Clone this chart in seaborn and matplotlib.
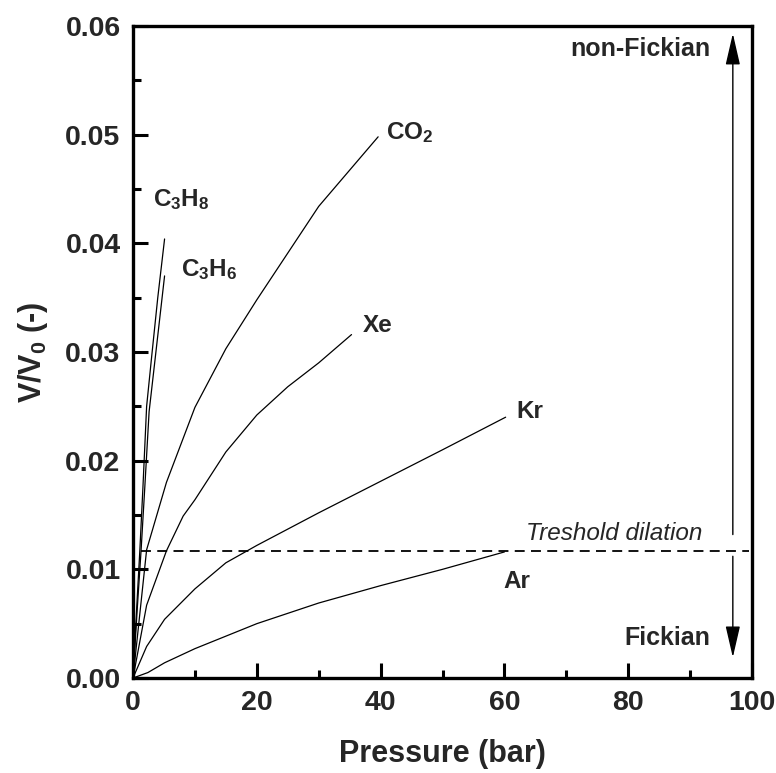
import matplotlib
matplotlib.use("Agg")
import matplotlib.pyplot as plt
import seaborn as sns
import pandas as pd
from matplotlib.ticker import MultipleLocator, FormatStrFormatter

# ---- data ----
p_c3h8 = [0, 0.6, 1.1, 1.6, 2.2, 3.0, 4.0, 5.1]
v_c3h8 = [0, 0.0065, 0.0117, 0.0175, 0.0250, 0.0295, 0.0350, 0.0404]
p_c3h6 = [0, 0.7, 1.3, 1.9, 2.6, 3.5, 4.3, 5.1]
v_c3h6 = [0, 0.0065, 0.0117, 0.0175, 0.0245, 0.0290, 0.0330, 0.0370]
p_co2 = [0, 2.2, 5.4, 10, 15, 20, 30, 39.6]
v_co2 = [0, 0.0118, 0.0180, 0.0249, 0.0303, 0.0348, 0.0434, 0.0498]
p_xe = [0, 2.2, 5.4, 8.1, 10, 15, 20, 25, 30, 35.3]
v_xe = [0, 0.0067, 0.0117, 0.0149, 0.0164, 0.0208, 0.0242, 0.0268, 0.0290, 0.0316]
p_kr = [0, 2.2, 5.1, 10, 15, 20, 30, 40, 50, 60.2]
v_kr = [0, 0.0029, 0.0054, 0.0082, 0.0106, 0.0122, 0.0152, 0.0181, 0.0210, 0.0240]
p_ar = [0, 2.4, 5.1, 10, 20, 30, 40, 50, 60]
v_ar = [0, 0.0005, 0.0014, 0.0027, 0.0050, 0.0069, 0.0085, 0.0100, 0.0116]

threshold = 0.0117
gas_names = ["C3H8", "C3H6", "CO2", "Xe", "Kr", "Ar"]
gas_labels = ["C$_3$H$_8$", "C$_3$H$_6$", "CO$_2$", "Xe", "Kr", "Ar"]
label_pos = [(3.3, 0.0440), (7.8, 0.0376), (40.9, 0.0502), (37.2, 0.0324), (62.0, 0.0245), (59.8, 0.0089)]
x_ticks = [0, 20, 40, 60, 80, 100]
y_ticks = [0.00, 0.01, 0.02, 0.03, 0.04, 0.05, 0.06]

frames = []
for name, p, v in zip(gas_names,
                      [p_c3h8, p_c3h6, p_co2, p_xe, p_kr, p_ar],
                      [v_c3h8, v_c3h6, v_co2, v_xe, v_kr, v_ar]):
    frames.append(pd.DataFrame({"Pressure": p, "V": v, "gas": name}))
df = pd.concat(frames, ignore_index=True)

# ---- style ----
sns.set_theme(style="ticks")
plt.rcParams["font.family"] = ["Liberation Sans", "DejaVu Sans"]
plt.rcParams["font.weight"] = "bold"
plt.rcParams["mathtext.fontset"] = "custom"
plt.rcParams["mathtext.rm"] = "Liberation Sans:bold"
plt.rcParams["mathtext.bf"] = "Liberation Sans:bold"
plt.rcParams["mathtext.it"] = "Liberation Sans:bold:italic"
plt.rcParams["mathtext.default"] = "regular"

fig = plt.figure(figsize=(7.76, 7.73), dpi=100)
ax = fig.add_axes([0.1714, 0.1229, 0.7977, 0.8435])

sns.lineplot(data=df, x="Pressure", y="V", hue="gas", units="gas", estimator=None,
             palette={g: "black" for g in gas_names}, linewidth=0.9,
             legend=False, sort=False, ax=ax)

# threshold dashed line
ax.plot([1.3, 99.5], [threshold, threshold], color="black", lw=1.3,
        linestyle=(0, (5.5, 3.5)))
ax.text(63.5, 0.0133, "Treshold dilation", fontsize=17.5, style="italic",
        fontweight="normal", va="center", ha="left")

# arrows
ax.annotate("", xy=(96.9, 0.0593), xytext=(96.9, 0.0132),
            arrowprops=dict(arrowstyle="-|>,head_length=1.3,head_width=0.3",
                            color="black", lw=1.0, mutation_scale=15,
                            shrinkA=0, shrinkB=0))
ax.annotate("", xy=(96.9, 0.0019), xytext=(96.9, 0.0112),
            arrowprops=dict(arrowstyle="-|>,head_length=1.3,head_width=0.3",
                            color="black", lw=1.0, mutation_scale=15,
                            shrinkA=0, shrinkB=0))
ax.text(93.3, 0.0579, "non-Fickian", fontsize=18, fontweight="bold",
        ha="right", va="center")
ax.text(93.3, 0.0037, "Fickian", fontsize=18, fontweight="bold",
        ha="right", va="center")

for lab, (x, y) in zip(gas_labels, label_pos):
    ax.text(x, y, lab, fontsize=17.5, fontweight="bold", ha="left", va="center")

ax.set_xlim(0, 100)
ax.set_ylim(0, 0.06)
ax.set_xticks(x_ticks)
ax.set_yticks(y_ticks)
ax.xaxis.set_minor_locator(MultipleLocator(10))
ax.yaxis.set_minor_locator(MultipleLocator(0.005))
ax.yaxis.set_major_formatter(FormatStrFormatter("%.2f"))
ax.tick_params(which="both", direction="in", top=False, right=False,
               width=2.2, color="black")
ax.tick_params(which="major", length=11, labelsize=20.5, pad=9)
ax.tick_params(which="minor", length=6)
for lab in ax.get_xticklabels() + ax.get_yticklabels():
    lab.set_fontweight("bold")
for s in ax.spines.values():
    s.set_linewidth(2.4)
    s.set_color("black")

ax.set_xlabel("Pressure (bar)", fontsize=22, fontweight="bold", labelpad=16)
ax.set_ylabel("V/V$_0$ (-)", fontsize=22, fontweight="bold", labelpad=11)

fig.savefig("out.png", dpi=100)
